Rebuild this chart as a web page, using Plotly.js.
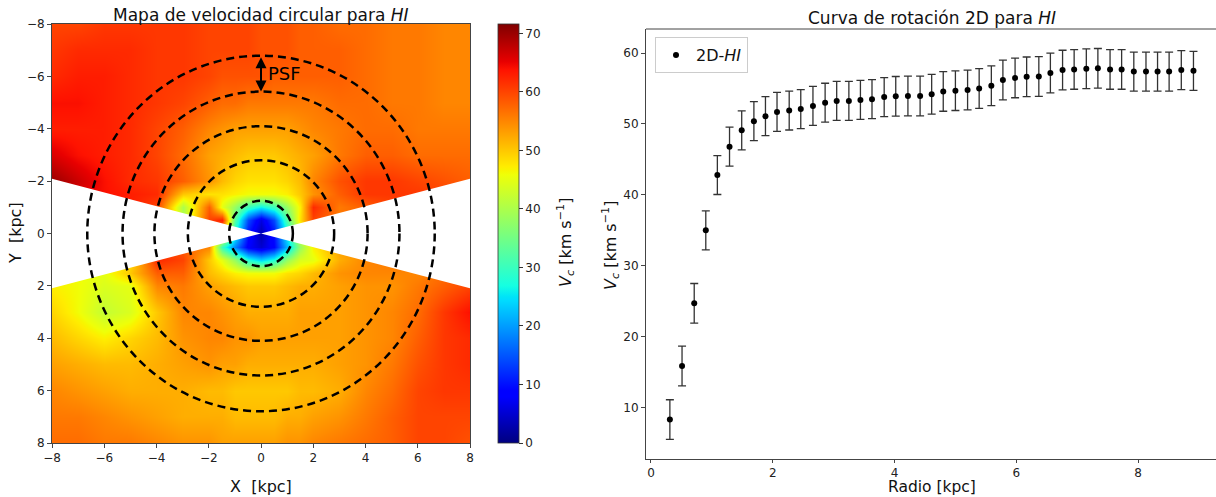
<!DOCTYPE html>
<html>
<head>
<meta charset="utf-8">
<script src="https://cdn.plot.ly/plotly-3.0.1.min.js"></script>
<style>
html,body{margin:0;padding:0;background:#fff;overflow:hidden;}
#chart{width:1216px;height:497px;}
</style>
</head>
<body>
<div id="chart"></div>
<script>
// ---------- Rotation curve (right panel) ----------
const radio = [0.31,0.51,0.71,0.90,1.09,1.29,1.49,1.69,1.88,2.07,2.27,2.46,2.66,2.86,3.05,3.25,3.44,3.63,3.83,4.02,4.22,4.42,4.61,4.80,5.00,5.20,5.39,5.59,5.78,5.98,6.17,6.37,6.56,6.76,6.95,7.15,7.34,7.54,7.73,7.93,8.13,8.32,8.51,8.71,8.91];
const vc = [8.3,15.85,24.7,35.0,42.8,46.8,49.1,50.4,51.1,51.7,51.9,52.1,52.55,53.0,53.25,53.25,53.4,53.5,53.8,53.9,53.95,53.95,54.2,54.6,54.7,54.8,55.0,55.4,56.2,56.5,56.65,56.7,57.2,57.6,57.7,57.8,57.85,57.7,57.7,57.4,57.4,57.4,57.4,57.6,57.5];
const vcErr = [2.8,2.8,2.8,2.75,2.75,2.75,2.75,2.75,2.75,2.75,2.75,2.75,2.75,2.75,2.75,2.75,2.75,2.75,2.75,2.8,2.8,2.8,2.8,2.8,2.8,2.8,2.8,2.8,2.8,2.8,2.8,2.8,2.8,2.8,2.8,2.8,2.8,2.8,2.8,2.75,2.75,2.75,2.75,2.75,2.75];

// ---------- Circular velocity map (left panel) ----------
const mapX = [-8,-7,-6,-5,-4,-3,-2,-1.5,-1,-0.5,0,0.5,1,1.5,2,3,4,5,6,7,8];
const mapY = [-8,-7,-6,-5,-4,-3,-2,-1.5,-1,-0.5,0,0.5,1,1.5,2,3,4,5,6,7,8];
const mapZ = [
 [60,60,61,61,61,61,60,60,60,60,59,59,59,58,58,57,57,56,56,55,55],
 [61,62,62,62,61,61,60,60,60,60,59,59,59,58,58,58,57,56,56,55,55],
 [62,63,63,62,61,61,60,59,59,59,59,58,58,58,58,58,57,56,56,55,55],
 [64,64,63,62,61,60,58,57,57,56,56,56,56,56,56,57,57,56,56,55,55],
 [63,63,63,62,60,58,55,54,53,53,53,53,53,54,55,56,57,57,56,56,56],
 [66,64,63,62,60,57,53,52,51,50,50,50,51,52,53,56,58,58,57,57,57],
 [70,67,64,62,61,58,54,51,49,48,48,48,49,51,55,59,61,61,60,59,58],
 [69,66,64,63,62,50,48,48,47,46,46,46,47,50,54,58,61,61,61,60,59],
 [68,66,64,63,60,40,58,45,38,30,26,30,38,47,62,56,58,60,60,60,59],
 [68,66,64,63,60,40,60,63,32,14,6,14,32,48,60,56,58,60,60,60,59],
 [60,58,56,55,60,50,58,50,27,10,3,10,26,42,55,55,57,58,58,59,60],
 [48,47,46,48,60,58,55,30,18,8,5,9,22,38,47,53,55,56,57,59,61],
 [48,47,46,48,62,60,50,45,38,28,24,28,38,44,45,52,55,56,57,59,61],
 [48,46,45,50,58,58,51,49,47,46,46,46,48,49,51,54,55,55,55,57,59],
 [47,46,44,45,55,56,53,52,51,50,50,50,51,52,52,53,54,54,56,58,60],
 [49,46,42,44,50,55,55,54,53,52,52,52,52,53,53,53,54,55,57,61,64],
 [51,49,47,49,51,54,55,55,54,54,53,53,53,53,53,53,54,55,58,61,62],
 [53,52,51,51,52,53,54,53,53,52,52,52,52,52,52,53,54,56,59,61,62],
 [55,54,53,52,52,52,51,51,50,50,50,50,50,51,51,52,55,57,60,61,61],
 [56,56,55,54,53,52,52,52,51,51,51,51,52,52,53,54,56,58,60,60,60],
 [57,57,56,56,55,54,54,53,53,53,53,53,54,54,55,56,57,58,60,60,59]
];
const ringRx = [1.22, 2.8, 4.08, 5.3, 6.65];
const ringRy = [1.25, 2.8, 4.1, 5.42, 6.79];
const maskSlope = 0.261;   // half-opening of the masked wedge (|y| < slope*|x|)
const cbTicks = [0,10,20,30,40,50,60,70];
const mapTicks = [-8,-6,-4,-2,0,2,4,6,8];
const radTicks = [0,2,4,6,8];
const vcTicks = [10,20,30,40,50,60];

// matplotlib "jet" colormap
function jetColorscale(){
  const R=[[0,0],[0.35,0],[0.66,1],[0.89,1],[1,0.5]];
  const G=[[0,0],[0.125,0],[0.375,1],[0.64,1],[0.91,0],[1,0]];
  const B=[[0,0.5],[0.11,1],[0.34,1],[0.65,0],[1,0]];
  function interp(seg,t){
    for(let i=0;i<seg.length-1;i++){
      if(t>=seg[i][0] && t<=seg[i+1][0]){
        const f=(t-seg[i][0])/(seg[i+1][0]-seg[i][0]);
        return seg[i][1]+f*(seg[i+1][1]-seg[i][1]);
      }
    }
    return seg[seg.length-1][1];
  }
  const stops=[0,0.11,0.125,0.34,0.35,0.375,0.64,0.65,0.66,0.89,0.91,1];
  return stops.map(t=>[t,'rgb('+Math.round(255*interp(R,t))+','+Math.round(255*interp(G,t))+','+Math.round(255*interp(B,t))+')']);
}
const minus = v => (v<0 ? '\u2212'+Math.abs(v) : String(v));

const W=1216, H=497;
const px = v => v/W, py = v => 1 - v/H;
const FONT = 'DejaVu Sans, sans-serif';

const heat = {
  type:'heatmap', x:mapX, y:mapY, z:mapZ,
  xaxis:'x', yaxis:'y',
  zsmooth:'best', zmin:0, zmax:71.6,
  colorscale: jetColorscale(),
  hoverinfo:'skip',
  colorbar:{
    x:px(498), xanchor:'left', xpad:0,
    y:py(443), yanchor:'bottom', ypad:0,
    len:419, lenmode:'pixels', thickness:21, thicknessmode:'pixels',
    outlinewidth:0.8, outlinecolor:'#333',
    tickvals:cbTicks, ticks:'outside', ticklen:4, tickcolor:'#333',
    tickfont:{family:FONT, size:12, color:'#222'}
  }
};

const curve = {
  type:'scatter', mode:'markers', x:radio, y:vc,
  xaxis:'x2', yaxis:'y2',
  name:'2D-<i>HI</i>',
  marker:{color:'#000', size:6},
  error_y:{type:'data', array:vcErr, visible:true, color:'#333', thickness:1.3, width:4},
  showlegend:true
};

const shapes = [];
// masked wedge (white)
shapes.push({type:'path', xref:'x', yref:'y', layer:'above',
  path:`M -8.2,${-8.2*maskSlope} L 0,0 L -8.2,${8.2*maskSlope} Z`, fillcolor:'#fff', line:{width:0}});
shapes.push({type:'path', xref:'x', yref:'y', layer:'above',
  path:`M 8.2,${-8.2*maskSlope} L 0,0 L 8.2,${8.2*maskSlope} Z`, fillcolor:'#fff', line:{width:0}});
// dashed rings
ringRx.forEach((rx,i)=>{
  const ry = ringRy[i];
  shapes.push({type:'circle', xref:'x', yref:'y', layer:'above',
    x0:-rx, x1:rx, y0:-ry, y1:ry, line:{color:'#000', width:2.5, dash:'8px,5px'}});
});
// top spine of the right panel (right spine is cut off by the figure edge)
shapes.push({type:'line', xref:'x2 domain', yref:'y2 domain', x0:0, x1:1, y0:1, y1:1,
  line:{color:'#444', width:1}});

const ann = [];
const tfont = (s)=>({family:FONT, size:s, color:'#111'});
ann.push({xref:'paper', yref:'paper', x:px(261), y:py(15), text:'Mapa de velocidad circular para <i>HI</i>', showarrow:false, font:tfont(17), xanchor:'center', yanchor:'middle'});
ann.push({xref:'paper', yref:'paper', x:px(932), y:py(18), text:'Curva de rotación 2D para <i>HI</i>', showarrow:false, font:tfont(17), xanchor:'center', yanchor:'middle'});
ann.push({xref:'paper', yref:'paper', x:px(261), y:py(486), text:'X&nbsp;&nbsp;[kpc]', showarrow:false, font:tfont(16), xanchor:'center', yanchor:'middle'});
ann.push({xref:'paper', yref:'paper', x:px(15), y:py(233), text:'Y&nbsp;&nbsp;[kpc]', showarrow:false, font:tfont(16), textangle:-90, xanchor:'center', yanchor:'middle'});
ann.push({xref:'paper', yref:'paper', x:px(565), y:py(243), text:'<i>V</i><sub><i>c</i></sub> [km s<sup>\u22121</sup>]', showarrow:false, font:tfont(16), textangle:-90, xanchor:'center', yanchor:'middle'});
ann.push({xref:'paper', yref:'paper', x:px(932), y:py(487), text:'Radio [kpc]', showarrow:false, font:tfont(15.5), xanchor:'center', yanchor:'middle'});
ann.push({xref:'paper', yref:'paper', x:px(610), y:py(246), text:'<i>V</i><sub><i>c</i></sub> [km s<sup>\u22121</sup>]', showarrow:false, font:tfont(16), textangle:-90, xanchor:'center', yanchor:'middle'});
// PSF arrow between the two outer rings
ann.push({xref:'x', yref:'y', axref:'x', ayref:'y', x:0, y:-ringRy[3], ax:0, ay:-ringRy[4],
  text:'', showarrow:true, arrowside:'end+start', arrowhead:2, arrowsize:1.1, arrowwidth:2, arrowcolor:'#000', standoff:0, startstandoff:0});
ann.push({xref:'x', yref:'y', x:0.2, y:-(ringRy[3]+ringRy[4])/2, text:'PSF', showarrow:false, font:{family:FONT, size:18, color:'#000'}, xanchor:'left', yanchor:'middle'});

const axCommon = {
  showgrid:false, zeroline:false, showline:true, linecolor:'#444', linewidth:1,
  ticks:'outside', ticklen:4, tickwidth:1, tickcolor:'#444',
  tickfont:{family:FONT, size:12, color:'#222'}
};

const layout = {
  width:W, height:H, autosize:false,
  margin:{l:0,r:0,t:0,b:0},
  paper_bgcolor:'#fff', plot_bgcolor:'#fff',
  font:{family:FONT},
  showlegend:true,
  legend:{x:px(655), y:py(37), xanchor:'left', yanchor:'top',
    bgcolor:'rgba(255,255,255,0.9)', bordercolor:'#ccc', borderwidth:1,
    font:{family:FONT, size:16, color:'#111'}},
  xaxis:Object.assign({}, axCommon, {domain:[px(52), px(470)], range:[-8,8], anchor:'y', mirror:true,
    tickvals:mapTicks, ticktext:mapTicks.map(minus)}),
  yaxis:Object.assign({}, axCommon, {domain:[py(443), py(24)], range:[8,-8], anchor:'x', mirror:true,
    tickvals:mapTicks, ticktext:mapTicks.map(minus)}),
  xaxis2:Object.assign({}, axCommon, {domain:[px(646), 1], range:[-0.082, 9.28], anchor:'y2',
    tickvals:radTicks, ticklen:3}),
  yaxis2:Object.assign({}, axCommon, {domain:[py(459), py(29)], range:[2.74, 63.4], anchor:'x2',
    tickvals:vcTicks}),
  shapes:shapes,
  annotations:ann
};

Plotly.newPlot('chart', [heat, curve], layout, {displayModeBar:false, staticPlot:true});
</script>
</body>
</html>
